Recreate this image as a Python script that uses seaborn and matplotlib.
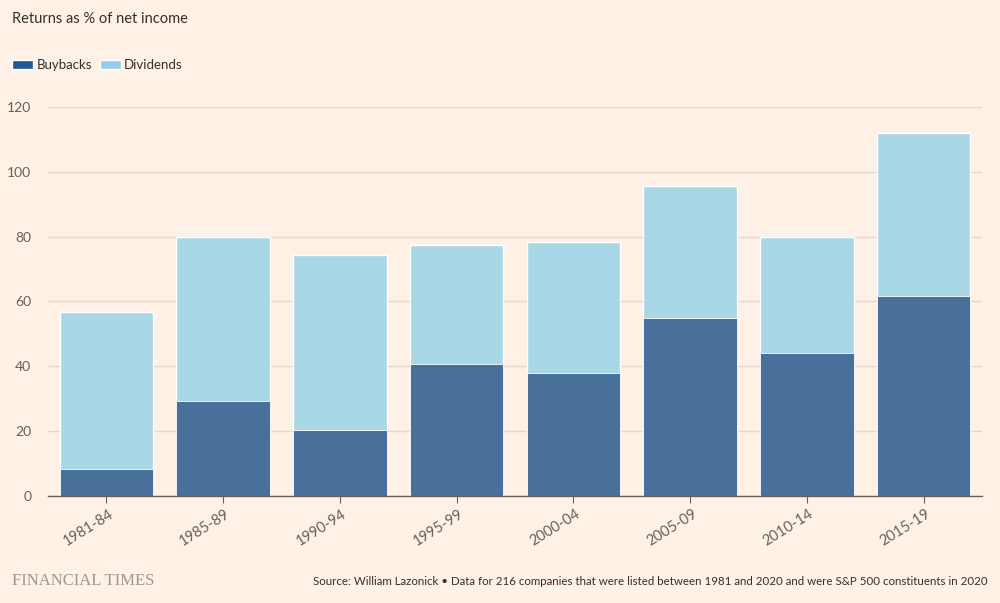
import seaborn as sns
import pandas as pd
import matplotlib.pyplot as plt
from matplotlib.patches import Patch
from matplotlib.transforms import ScaledTranslation

# data (% of net income)
periods = ['1981-84', '1985-89', '1990-94', '1995-99', '2000-04', '2005-09', '2010-14', '2015-19']
buybacks = [8.4, 29.4, 20.4, 40.6, 37.9, 54.8, 44.2, 61.6]
dividends = [48.4, 50.6, 54.0, 36.9, 40.6, 40.7, 35.8, 50.5]

df = pd.DataFrame({'period': periods, 'buybacks': buybacks, 'dividends': dividends})
df['total'] = df['buybacks'] + df['dividends']

bg = '#fff1e5'
dark = '#48709b'
light = '#a8d7e6'
txt = '#66605c'

sns.set_theme(style='white')
plt.rcParams['font.family'] = ['Lato', 'DejaVu Sans']

fig = plt.figure(figsize=(10, 6.03), dpi=100, facecolor=bg)
ax = fig.add_axes([0.048, 0.1775, 0.934, 0.645])
ax.set_facecolor(bg)

# stacked: totals first, buybacks drawn over them
sns.barplot(data=df, x='period', y='total', color=light, saturation=1,
            errorbar=None, width=0.8, ax=ax, zorder=2)
sns.barplot(data=df, x='period', y='buybacks', color=dark, saturation=1,
            errorbar=None, width=0.8, ax=ax, edgecolor='white', linewidth=0.6, zorder=3)

ax.set_ylim(0, 120)
ax.set_xlim(-0.5, 7.5)
ax.set_yticks(range(0, 121, 20))
ax.yaxis.grid(True, color='#e3d6cb', linewidth=1, zorder=0)
ax.set_axisbelow(True)
for s in ['top', 'right', 'left']:
    ax.spines[s].set_visible(False)
ax.spines['bottom'].set_color(txt)
ax.spines['bottom'].set_linewidth(1)
ax.spines['bottom'].set_zorder(4)
ax.set_xlabel('')
ax.set_ylabel('')
ax.tick_params(axis='y', length=0, pad=12, labelsize=10, labelcolor=txt)
ax.tick_params(axis='x', length=5, width=0.8, color=txt, pad=7, labelsize=10.5, labelcolor=txt,
               bottom=True)
for lab in ax.get_xticklabels():
    lab.set_rotation(32)
    lab.set_ha('right')
    lab.set_va('center')
    lab.set_rotation_mode('anchor')
    lab.set_transform(lab.get_transform() + ScaledTranslation(4 / 72, 0, fig.dpi_scale_trans))

fig.text(0.012, 0.968, 'Returns as % of net income', fontsize=10.5, color='#33302e', va='center')

handles = [Patch(facecolor='#1f5a96', label='Buybacks'), Patch(facecolor='#92cfe7', label='Dividends')]
fig.legend(handles=handles, loc='center left', bbox_to_anchor=(0.012, 0.892), ncol=2, frameon=False,
           borderpad=0, borderaxespad=0, fontsize=9.5, handlelength=1.6, handleheight=0.68,
           handletextpad=0.25, columnspacing=0.6, labelcolor='#33302e')

fig.text(0.012, 0.036, 'FINANCIAL TIMES', fontsize=12, color='#9e9791', va='center',
         family=['Liberation Serif', 'DejaVu Serif'])
fig.text(0.988, 0.036, 'Source: William Lazonick \u2022 Data for 216 companies that were listed between '
         '1981 and 2020 and were S&P 500 constituents in 2020', fontsize=8.3, color='#33302e',
         ha='right', va='center')

fig.savefig('out.png', dpi=100, facecolor=bg)
